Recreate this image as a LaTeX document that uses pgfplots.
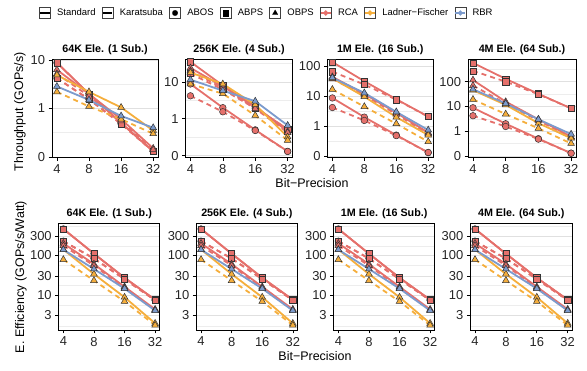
\documentclass[border=0pt]{standalone}
\usepackage{fontspec}
\setmainfont{Liberation Sans}
\usepackage{pgfplots}
\pgfplotsset{compat=1.18}
\usepackage{pgfplotstable}
\definecolor{rca}{RGB}{229,112,107}
\definecolor{lf}{RGB}{245,174,60}
\definecolor{rbr}{RGB}{124,155,205}

% Throughput tables (x = bit precision)
\pgfplotstableread{
b abosS abosK abpsS abpsK rcaS rcaK lfS lfK rbrS
4 8.8 4.2 8.8 4.2 6.3 5.2 4.9 2.2 2.85
8 2.0 1.55 2.0 1.55 2.0 1.8 2.2 1.1 1.5
16 0.5 0.48 0.5 0.48 0.6 0.55 1.05 0.6 0.7
32 0.13 0.13 0.13 0.13 0.15 0.14 0.35 0.3 0.4
}\tA
\pgfplotstableread{
b abosS abosK abpsS abpsK rcaS rcaK lfS lfK rbrS
4 8.8 4.2 35.2 16.8 24 20 18 8.8 11.5
8 2.0 1.55 8.0 6.2 7.5 6.8 8.8 4.8 5.8
16 0.5 0.48 2.0 1.92 2.2 1.9 2.4 1.23 3.0
32 0.13 0.13 0.52 0.52 0.45 0.42 0.32 0.26 0.66
}\tB
\pgfplotstableread{
b abosS abosK abpsS abpsK rcaS rcaK lfS lfK rbrS
4 8.8 4.2 141 67 45 38 40 17 42
8 2.0 1.55 32 24.8 12 11 9.7 4.5 13
16 0.5 0.48 8.0 7.7 2.8 2.5 2.0 1.2 3.0
32 0.13 0.13 2.08 2.08 0.6 0.55 0.5 0.3 0.74
}\tC
\pgfplotstableread{
b abosS abosK abpsS abpsK rcaS rcaK lfS lfK rbrS
4 8.8 4.2 563 269 115 69 45 19 49
8 2.0 1.55 128 99 15.5 13 11.5 4.9 13
16 0.5 0.48 32 30.7 3.0 2.7 2.1 1.3 3.0
32 0.13 0.13 8.3 8.3 0.6 0.56 0.52 0.32 0.76
}\tD
% Energy efficiency table
\pgfplotstableread{
b abosS abosK abpsS abpsK rcaS rcaK lfS lfK rbrS
4 465 228 465 228 200 175 140 78 139
8 110 83 110 83 60 55 33.5 23 45
16 27 25 27 25 16 15 8.7 6.8 14.4
32 7.5 7.3 7.5 7.3 4.3 4.1 1.9 1.7 4.0
}\tE

\pgfplotsset{
  gline/.style={draw=#1, line width=1.8bp, mark=none, solid},
  gdash/.style={draw=#1, line width=1.8bp, mark=none, dash pattern=on 5bp off 4bp},
  gcirc/.style={only marks, mark=*, mark size=3.3bp, mark options={fill=#1, draw=black!80, line width=0.5bp, solid}},
  gsq/.style={only marks, mark=square*, mark size=3.1bp, mark options={fill=#1, draw=black!80, line width=0.5bp, solid}},
  gtri/.style={only marks, mark=triangle*, mark size=3.9bp, mark options={fill=#1, draw=black!80, line width=0.5bp, solid}},
  every axis title/.style={at={(0.5,1)}, anchor=south, inner sep=0pt, yshift=4bp,
     font=\bfseries\fontsize{10.8}{11}\selectfont},
  ggpanel/.style={
    scale only axis,
    xmin=3.6, xmax=35.5,
    xtick={4,8,16,32}, xticklabels={4,8,16,32},
    axis line style={black, line width=0.8bp},
    major tick style={black, line width=0.6bp},
    major tick length=3.5bp, minor tick length=0pt,
    tick align=outside,
    xtick pos=lower, ytick pos=left,
    ymajorgrids, yminorgrids,
    major grid style={black!12, line width=0.6bp},
    minor grid style={black!7, line width=0.45bp},
    tick label style={font=\fontsize{13}{13}\selectfont, text=black!85},
    clip=false,
  },
  ggtop/.style={height=98.3bp, yticklabels={0,1,10,100}, ytick={0.1,1,10,100}},
  ggbot/.style={height=106.7bp, ymin=1.29, ymax=646, ytick={3,10,30,100,300}, yticklabels={3,10,30,100,300},
     minor ytick={1.64,5.48,17.3,54.8,173,548}},
  ggkey/.style={legend image code/.code={%
     \draw[black!75, line width=0.5bp, fill=white, solid] (0bp,-5.5bp) rectangle (11bp,5.5bp);
     \draw[mark repeat=2, mark phase=2, ##1] plot coordinates {(0.6bp,0bp) (5.5bp,0bp) (10.4bp,0bp)};
  }},
}

\newcommand{\allseries}[1]{%
  \addplot[gline=rca] table[x=b,y=abosS]{#1};
  \addplot[gdash=rca] table[x=b,y=abosK]{#1};
  \addplot[gline=rca] table[x=b,y=abpsS]{#1};
  \addplot[gdash=rca] table[x=b,y=abpsK]{#1};
  \addplot[gline=rca] table[x=b,y=rcaS]{#1};
  \addplot[gdash=rca] table[x=b,y=rcaK]{#1};
  \addplot[gline=lf] table[x=b,y=lfS]{#1};
  \addplot[gdash=lf] table[x=b,y=lfK]{#1};
  \addplot[gline=rbr] table[x=b,y=rbrS]{#1};
  \addplot[gcirc=rca] table[x=b,y=abosS]{#1};
  \addplot[gcirc=rca] table[x=b,y=abosK]{#1};
  \addplot[gsq=rca] table[x=b,y=abpsS]{#1};
  \addplot[gsq=rca] table[x=b,y=abpsK]{#1};
  \addplot[gtri=rca] table[x=b,y=rcaS]{#1};
  \addplot[gtri=rca] table[x=b,y=rcaK]{#1};
  \addplot[gtri=lf] table[x=b,y=lfS]{#1};
  \addplot[gtri=lf] table[x=b,y=lfK]{#1};
  \addplot[gtri=rbr] table[x=b,y=rbrS]{#1};
}

\begin{document}
\begin{tikzpicture}
\useasboundingbox (0,0) rectangle (587bp,371bp);

% ---------- top row: throughput ----------
\begin{axis}[xmode=log, log basis x=2, ymode=log, ggpanel, ggtop, anchor=south west, at={(52bp,213.7bp)}, width=106bp, ymin=0.098, ymax=10.5,
  minor ytick={0.316,3.16}, title={64K Ele. (1 Sub.)}]
\allseries{\tA}
\end{axis}
\begin{axis}[xmode=log, log basis x=2, ymode=log, ggpanel, ggtop, anchor=south west, at={(185.5bp,213.7bp)}, width=107bp, ymin=0.09, ymax=41.9,
  minor ytick={0.316,3.16,31.6}, title={256K Ele. (4 Sub.)}]
\allseries{\tB}
\end{axis}
\begin{axis}[xmode=log, log basis x=2, ymode=log, ggpanel, ggtop, anchor=south west, at={(327.5bp,213.7bp)}, width=105.5bp, ymin=0.09, ymax=178,
  minor ytick={0.316,3.16,31.6}, title={1M Ele. (16 Sub.)}]
\allseries{\tC}
\end{axis}
\begin{axis}[xmode=log, log basis x=2, ymode=log, ggpanel, ggtop, anchor=south west, at={(468bp,213.7bp)}, width=108bp, ymin=0.089, ymax=810,
  minor ytick={0.316,3.16,31.6,316}, title={4M Ele. (64 Sub.)}]
\allseries{\tD}
\end{axis}

% ---------- bottom row: energy efficiency ----------
\begin{axis}[xmode=log, log basis x=2, ymode=log, ggpanel, ggbot, anchor=south west, at={(58.7bp,41bp)}, width=101bp, title={64K Ele. (1 Sub.)}]
\allseries{\tE}
\end{axis}
\begin{axis}[xmode=log, log basis x=2, ymode=log, ggpanel, ggbot, anchor=south west, at={(196.4bp,41bp)}, width=101bp, title={256K Ele. (4 Sub.)}]
\allseries{\tE}
\end{axis}
\begin{axis}[xmode=log, log basis x=2, ymode=log, ggpanel, ggbot, anchor=south west, at={(333.7bp,41bp)}, width=101bp, title={1M Ele. (16 Sub.)}]
\allseries{\tE}
\end{axis}
\begin{axis}[xmode=log, log basis x=2, ymode=log, ggpanel, ggbot, anchor=south west, at={(470.3bp,41bp)}, width=102bp, title={4M Ele. (64 Sub.)}]
\allseries{\tE}
\end{axis}

% ---------- axis titles ----------
\node[rotate=90, font=\fontsize{12.5}{13}\selectfont, text=black] at (20bp,259bp) {Throughput (GOPs/s)};
\node[rotate=90, font=\fontsize{12.5}{13}\selectfont, text=black] at (21bp,94bp) {E. Efficiency (GOPs/s/Watt)};
\node[font=\fontsize{12.5}{13}\selectfont] at (312bp,188bp) {Bit−Precision};
\node[font=\fontsize{12.5}{13}\selectfont] at (315bp,15bp) {Bit−Precision};

% ---------- legend ----------
\begin{axis}[at={(0bp,0bp)}, anchor=south west, scale only axis, width=587bp, height=371bp,
  hide axis, xmin=0, xmax=1, ymin=0, ymax=1,
  legend columns=8,
  legend style={at={(axis description cs:0.0664,0.965)}, anchor=west, draw=none, fill=none,
    inner sep=0pt, font=\fontsize{9.5}{10}\selectfont,
    /tikz/every odd column/.append style={column sep=4.5bp},
    /tikz/every even column/.append style={column sep=4.3bp}}]
\addlegendimage{ggkey, draw=black, line width=1.2bp, solid, mark=none}
\addlegendentry{Standard}
\addlegendimage{ggkey, draw=black, line width=1.2bp, dash pattern=on 9bp off 1bp, mark=none}
\addlegendentry{Karatsuba\hspace{9bp}}
\addlegendimage{ggkey, draw=white, line width=0.1bp, mark=*, mark size=2.8bp, mark options={fill=black, draw=black, solid}}
\addlegendentry{ABOS}
\addlegendimage{ggkey, draw=white, line width=0.1bp, mark=square*, mark size=2.6bp, mark options={fill=black, draw=black, solid}}
\addlegendentry{ABPS}
\addlegendimage{ggkey, draw=white, line width=0.1bp, mark=triangle*, mark size=3.2bp, mark options={fill=black, draw=black, solid}}
\addlegendentry{OBPS\hspace{9bp}}
\addlegendimage{ggkey, draw=rca, line width=1.4bp, solid, mark=*, mark size=1.8bp, mark options={fill=rca, draw=rca}}
\addlegendentry{RCA}
\addlegendimage{ggkey, draw=lf, line width=1.4bp, solid, mark=*, mark size=1.8bp, mark options={fill=lf, draw=lf}}
\addlegendentry{Ladner−Fischer}
\addlegendimage{ggkey, draw=rbr, line width=1.4bp, solid, mark=*, mark size=1.8bp, mark options={fill=rbr, draw=rbr}}
\addlegendentry{RBR}
\end{axis}
\end{tikzpicture}
\end{document}
